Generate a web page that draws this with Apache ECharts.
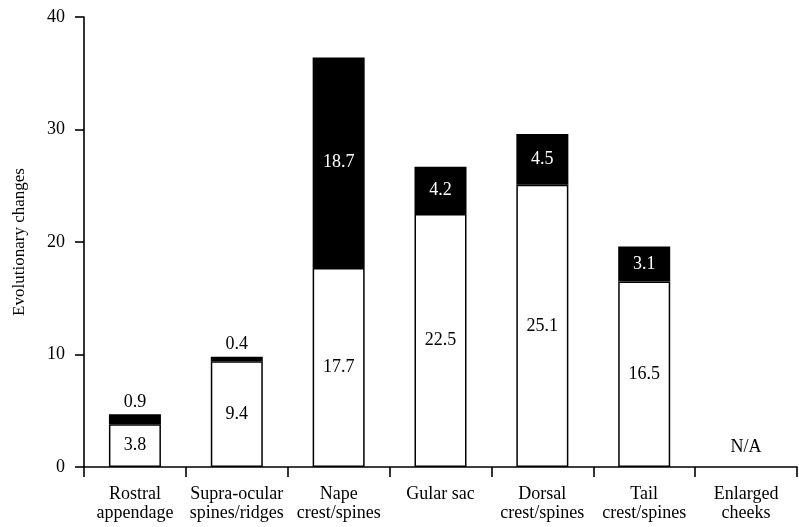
<!DOCTYPE html>
<html>
<head>
<meta charset="utf-8">
<script src="https://cdn.jsdelivr.net/npm/echarts@6/dist/echarts.min.js"></script>
<style>
  html, body { margin: 0; padding: 0; background: #fff; }
  #chart { width: 799px; height: 527px; }
</style>
</head>
<body>
<div id="chart"></div>
<script>
// Trait categories along the x axis
const categories = [
  'Rostral\nappendage',
  'Supra-ocular\nspines/ridges',
  'Nape\ncrest/spines',
  'Gular sac',
  'Dorsal\ncrest/spines',
  'Tail\ncrest/spines',
  'Enlarged\ncheeks'
];
// Lower (white) segment of each stacked bar
const lowerValues = [3.8, 9.4, 17.7, 22.5, 25.1, 16.5, 0];
// Upper (black) segment of each stacked bar
const upperValues = [0.9, 0.4, 18.7, 4.2, 4.5, 3.1, null];
// Y axis ticks
const yTicks = [0, 10, 20, 30, 40];
// Trait with no data
const noDataIndex = 6;
const noDataText = 'N/A';

const FONT = '"Liberation Serif", "Times New Roman", serif';

const lowerData = lowerValues.map((v, i) => {
  if (i === noDataIndex) {
    return {
      value: v,
      itemStyle: { borderWidth: 0 },
      label: { show: true, position: 'top', distance: 11, formatter: noDataText }
    };
  }
  return v;
});

const upperData = upperValues.map(v => {
  if (v == null) return null;
  if (v < 1) {
    return { value: v, label: { position: 'top', distance: 3, color: '#000' } };
  }
  return v;
});

const chart = echarts.init(document.getElementById('chart'), null, { renderer: 'canvas' });
chart.setOption({
  animation: false,
  backgroundColor: '#fff',
  grid: { left: 84, right: 2, top: 17, bottom: 60, containLabel: false },
  xAxis: {
    type: 'category',
    data: categories,
    boundaryGap: true,
    axisLine: { show: true, lineStyle: { color: '#000', width: 1.6 } },
    axisTick: { show: true, interval: 0, length: 10, lineStyle: { color: '#000', width: 1.6 } },
    axisLabel: {
      interval: 0, margin: 18,
      fontFamily: FONT, fontSize: 18, color: '#000', lineHeight: 19
    },
    splitLine: { show: false }
  },
  yAxis: {
    type: 'value',
    min: yTicks[0],
    max: yTicks[yTicks.length - 1],
    interval: yTicks[1] - yTicks[0],
    name: 'Evolutionary changes',
    nameLocation: 'middle',
    nameGap: 56,
    nameTextStyle: { fontFamily: FONT, fontSize: 17, color: '#000' },
    axisLine: { show: true, lineStyle: { color: '#000', width: 1.6 } },
    axisTick: { show: true, inside: false, length: 9, lineStyle: { color: '#000', width: 1.6 } },
    axisLabel: { margin: 19, fontFamily: FONT, fontSize: 18, color: '#000' },
    splitLine: { show: false }
  },
  series: [
    {
      name: 'lower',
      type: 'bar',
      stack: 'total',
      barWidth: 52,
      data: lowerData,
      itemStyle: { color: '#fff', borderColor: '#000', borderWidth: 1.5 },
      label: {
        show: true, position: 'inside',
        fontFamily: FONT, fontSize: 18, color: '#000'
      }
    },
    {
      name: 'upper',
      type: 'bar',
      stack: 'total',
      barWidth: 52,
      data: upperData,
      itemStyle: { color: '#000', borderColor: '#000', borderWidth: 1.5 },
      label: {
        show: true, position: 'inside',
        fontFamily: FONT, fontSize: 18, color: '#fff'
      }
    }
  ]
});
</script>
</body>
</html>
